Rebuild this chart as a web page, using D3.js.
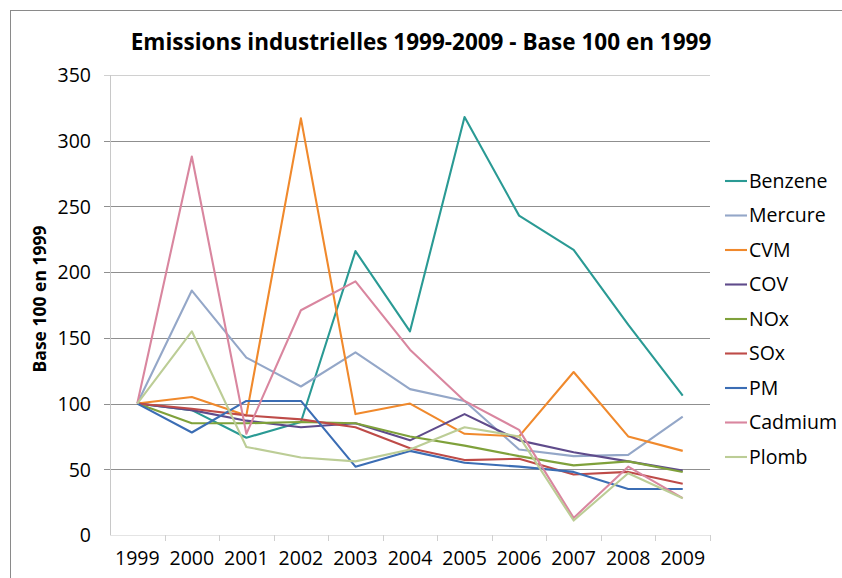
<!DOCTYPE html>
<html><head><meta charset="utf-8">
<script src="https://cdn.jsdelivr.net/npm/d3@7"></script>
<style>body{margin:0;background:#fff}svg{display:block}text{font-family:"Open Sans",sans-serif;fill:#000}</style>
</head><body><svg id="c" width="842" height="578"></svg>
<script>
const years = ["1999","2000","2001","2002","2003","2004","2005","2006","2007","2008","2009"];
const yTicks = [0,50,100,150,200,250,300,350];
const seriesNames = ["Benzene","Mercure","CVM","COV","NOx","SOx","PM","Cadmium","Plomb"];
const benzene = [100,95,74,86,216,155,318,243,217,160,106];
const mercure = [100,186,135,113,139,111,102,65,60,61,90];
const cvm     = [100,105,91,317,92,100,77,75,124,75,64];
const cov     = [100,95,87,82,85,72,92,72,63,56,49];
const nox     = [100,85,85,86,85,75,68,60,53,56,48];
const sox     = [100,96,91,88,82,66,57,58,46,48,39];
const pm      = [100,78,102,102,52,64,55,52,48,35,35];
const cadmium = [100,288,77,171,193,141,102,80,13,52,28];
const plomb   = [100,155,67,59,56,65,82,75,11,47,28];
const values = [benzene,mercure,cvm,cov,nox,sox,pm,cadmium,plomb];
const colors = ["#2a9a94","#94a7c8","#f0892c","#5f4b8b","#7fa13b","#be4b48","#3b6db4","#d9869f","#bccd96"];

const svg = d3.select("#c");
const L = 110, R = 710, T = 75, B = 535;
const x = d3.scaleBand().domain(years).range([L, R]);
const y = d3.scaleLinear().domain([0, 350]).range([B, T]);

// outer border
svg.append("rect").attr("x",10.5).attr("y",10.5).attr("width",840).attr("height",590)
  .attr("fill","none").attr("stroke","#8a8a8a").attr("stroke-width",1);

// gridlines
svg.append("g").selectAll("line").data(yTicks.filter(d=>d>0)).join("line")
  .attr("x1",L-6).attr("x2",R).attr("y1",d=>Math.round(y(d))+0.5).attr("y2",d=>Math.round(y(d))+0.5)
  .attr("stroke",d=>d===350?"#d0d0d0":"#8f8f8f").attr("stroke-width",1);

// y axis line
svg.append("line").attr("x1",L+0.5).attr("x2",L+0.5).attr("y1",T).attr("y2",B)
  .attr("stroke","#c8c8c8");
svg.append("line").attr("x1",L).attr("x2",R).attr("y1",B+0.5).attr("y2",B+0.5)
  .attr("stroke","#e4e4e4");

// y tick labels
const yAxis = d3.axisLeft(y).tickValues(yTicks).tickSize(0).tickPadding(0);
const gy = svg.append("g").attr("transform",`translate(${L-19},0)`).call(yAxis);
gy.select(".domain").remove();
gy.selectAll("text").attr("font-size",19.5).attr("font-family","Open Sans").attr("fill","#000").attr("dy","0.35em");

// x ticks (band boundaries)
const bounds = years.slice(1).map(d=>x(d)).concat([R]);
svg.append("g").selectAll("line").data(bounds).join("line")
  .attr("x1",d=>Math.round(d)+0.5).attr("x2",d=>Math.round(d)+0.5).attr("y1",B).attr("y2",B+6)
  .attr("stroke","#cfcfcf");

const xAxis = d3.axisBottom(x).tickSize(0).tickPadding(0);
const gx = svg.append("g").attr("transform",`translate(0,${B+23})`).call(xAxis);
gx.select(".domain").remove();
gx.selectAll("text").attr("font-size",19.5).attr("font-family","Open Sans").attr("fill","#000").attr("dy","0.35em");

// lines
const line = d3.line().x((d,i)=>x(years[i])+x.bandwidth()/2).y(d=>y(d));
svg.append("g").selectAll("path").data(values).join("path")
  .attr("d",d=>line(d)).attr("fill","none")
  .attr("stroke",(d,i)=>colors[i]).attr("stroke-width",2.1).attr("stroke-linejoin","round");

// title
svg.append("text").attr("x",421).attr("y",50).attr("text-anchor","middle")
  .attr("font-size",22.5).attr("font-weight","bold").text("Emissions industrielles 1999-2009 - Base 100 en 1999");

// y axis title
svg.append("text").attr("transform","translate(46,299) rotate(-90)").attr("text-anchor","middle")
  .attr("font-size",17.5).attr("font-weight","bold").text("Base 100 en 1999");

// legend
const lg = svg.append("g").selectAll("g").data(seriesNames).join("g")
  .attr("transform",(d,i)=>`translate(725,${181+i*34.5})`);
lg.append("line").attr("x1",0).attr("x2",22).attr("y1",0).attr("y2",0)
  .attr("stroke",(d,i)=>colors[i]).attr("stroke-width",2.1);
lg.append("text").attr("x",24).attr("y",0).attr("dy","0.35em").attr("font-size",19.5).text(d=>d);
</script></body></html>
